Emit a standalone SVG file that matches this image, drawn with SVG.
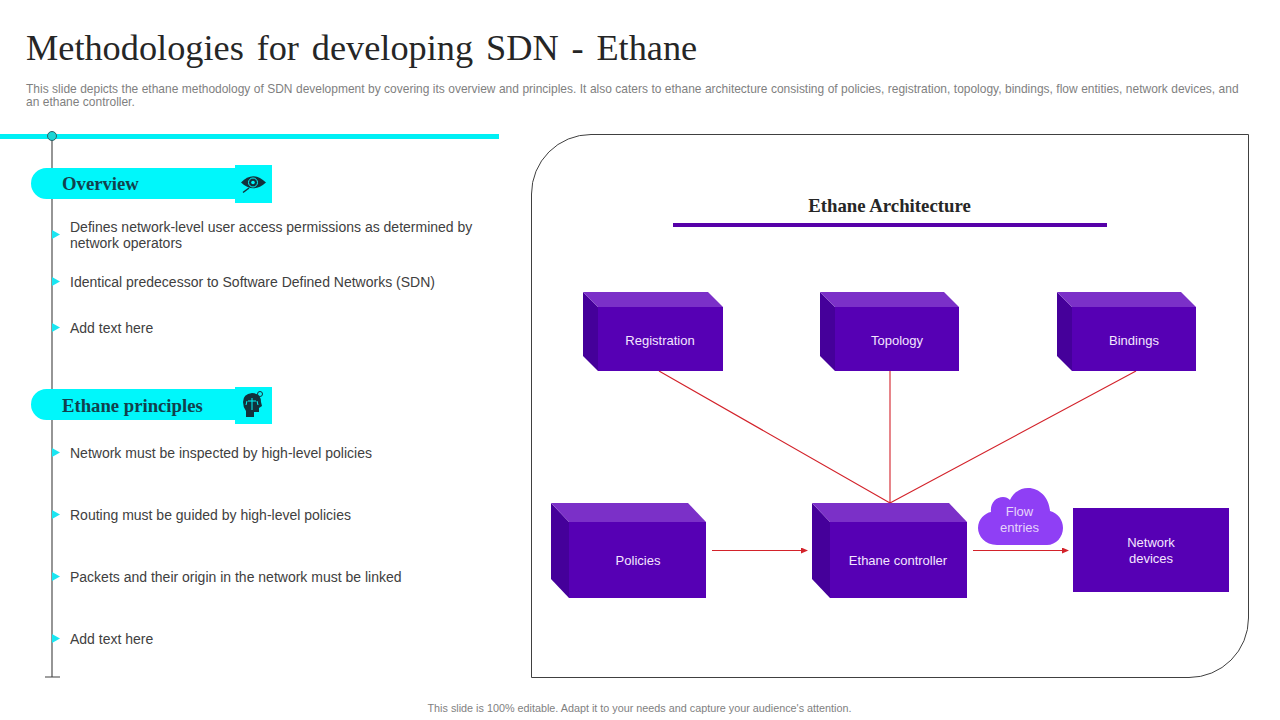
<svg xmlns="http://www.w3.org/2000/svg" width="1280" height="720" viewBox="0 0 1280 720">
<style>
.title{font:36.3px "Liberation Serif",serif;fill:#262626;word-spacing:3.800px}
.sub{font:11.980px "Liberation Sans",Arial,sans-serif;fill:#7f7f7f;word-spacing:.15px}
.body{font:14px "Liberation Sans",Arial,sans-serif;fill:#404040}
.head{font:bold 18.700px "Liberation Serif",serif;fill:#12414d}
.arch{font:bold 18.800px "Liberation Serif",serif;fill:#262626}
.lbl{font:13px "Liberation Sans",Arial,sans-serif;fill:#f4e6ff;text-anchor:middle}
.front{fill:#5600b4}.top{fill:#7b30c8}.side{fill:#45009a}
.pill{fill:#00f7fb}.tri{fill:#19e6f2}
.wire{stroke:#d3222a;stroke-width:1.1;fill:none}
.spine{stroke:#404040;stroke-width:1.1;fill:none}
</style>
<defs>
<marker id="arrow" markerWidth="7" markerHeight="6" refX="6" refY="3" orient="auto" markerUnits="userSpaceOnUse"><path d="M0 0L7 3L0 6Z" fill="#d3222a"/></marker>
</defs>
<g id="header">
<text class="title" x="26" y="60">Methodologies for developing SDN - Ethane</text>
<text class="sub" x="26" y="93">This slide depicts the ethane methodology of SDN development by covering its overview and principles. It also caters to ethane architecture consisting of policies, registration, topology, bindings, flow entities, network devices, and</text>
<text class="sub" x="26" y="106">an ethane controller.</text>
</g>
<g id="timeline">
<rect x="0" y="134" width="499" height="5" fill="#00f0f5"/>
<path class="spine" d="M52 140V677M45 677H60"/>
<circle cx="52" cy="136" r="4.5" fill="#19d5d5" stroke="#2f5f66" stroke-width="1"/>
</g>
<g id="overview">
<path class="pill" d="M46.500 168H235V199H46.500A15.500 15.500 0 0 1 46.500 168Z"/>
<rect class="pill" x="235" y="165" width="37" height="38"/>
<text class="head" x="62" y="190">Overview</text>
<path d="M241 182.500Q253 170 266 182.500Q253 194 241 182.500Z" fill="#12323c"/>
<circle cx="253" cy="182.500" r="4.500" fill="none" stroke="#00f7fb" stroke-width="1"/>
<circle cx="253" cy="182.500" r="1.800" fill="#00f7fb"/>
<path d="M249 188L243 192.500" stroke="#12323c" stroke-width="1.500"/>
</g>
<g id="overview-items">
<path class="tri" d="M52 230L60 234.500L52 239Z"/>
<text class="body" x="70" y="232">Defines network-level user access permissions as determined by</text>
<text class="body" x="70" y="248">network operators</text>
<path class="tri" d="M52 277L60 281.500L52 286Z"/>
<text class="body" x="70" y="287">Identical predecessor to Software Defined Networks (SDN)</text>
<path class="tri" d="M52 323L60 327.500L52 332Z"/>
<text class="body" x="70" y="333">Add text here</text>
</g>
<g id="principles">
<path class="pill" d="M46.500 389H235V420H46.500A15.500 15.500 0 0 1 46.500 389Z"/>
<rect class="pill" x="235" y="387" width="37" height="37"/>
<text class="head" x="62" y="412">Ethane principles</text>
<path d="M243 402Q243 394 252 393Q261 393 261 402L262 406L259 408V412L254 412V417H246V411Q243 407 243 402Z" fill="#12323c"/>
<circle cx="260" cy="394" r="2.500" fill="none" stroke="#12323c" stroke-width="1"/>
<path d="M252 398V410M248 401H256M247 401L246 405M257 401L258 405" stroke="#00f7fb" stroke-width="1" fill="none"/>
</g>
<g id="principles-items">
<path class="tri" d="M52 448L60 452.500L52 457Z"/>
<text class="body" x="70" y="458">Network must be inspected by high-level policies</text>
<path class="tri" d="M52 510L60 514.500L52 519Z"/>
<text class="body" x="70" y="520">Routing must be guided by high-level policies</text>
<path class="tri" d="M52 572L60 576.500L52 581Z"/>
<text class="body" x="70" y="582">Packets and their origin in the network must be linked</text>
<path class="tri" d="M52 634L60 638.500L52 643Z"/>
<text class="body" x="70" y="644">Add text here</text>
</g>
<g id="panel">
<path d="M591 134.500H1248.500V618A59.500 59.500 0 0 1 1189 677.500H531.500V194A59.500 59.500 0 0 1 591 134.500Z" fill="#fff" stroke="#404040" stroke-width="1"/>
<text class="arch" x="889.500" y="212" text-anchor="middle">Ethane Architecture</text>
<rect x="673" y="223" width="434" height="4" fill="#5600a8"/>
</g>
<g id="connectors">
<path class="wire" d="M659 371L890 503M890 371V503M1136 371L890 503"/>
<path class="wire" d="M712 550.500H807" marker-end="url(#arrow)"/>
<path class="wire" d="M973 550.500H1068" marker-end="url(#arrow)"/>
</g>
<g id="registration">
<path class="side" d="M583 292L598 307V371L583 356Z"/>
<path class="top" d="M583 292H708L723 307H598Z"/>
<rect class="front" x="598" y="307" width="125" height="64"/>
<text class="lbl" x="660" y="345">Registration</text>
</g>
<g id="topology">
<path class="side" d="M820 292L835 307V371L820 356Z"/>
<path class="top" d="M820 292H944L959 307H835Z"/>
<rect class="front" x="835" y="307" width="124" height="64"/>
<text class="lbl" x="897" y="345">Topology</text>
</g>
<g id="bindings">
<path class="side" d="M1057 292L1072 307V371L1057 356Z"/>
<path class="top" d="M1057 292H1181L1196 307H1072Z"/>
<rect class="front" x="1072" y="307" width="124" height="64"/>
<text class="lbl" x="1134" y="345">Bindings</text>
</g>
<g id="policies">
<path class="side" d="M551 503L569 522V598L551 579Z"/>
<path class="top" d="M551 503H688L706 522H569Z"/>
<rect class="front" x="569" y="522" width="137" height="76"/>
<text class="lbl" x="638" y="565">Policies</text>
</g>
<g id="controller">
<path class="side" d="M812 503L830 522V598L812 579Z"/>
<path class="top" d="M812 503H949L967 522H830Z"/>
<rect class="front" x="830" y="522" width="137" height="76"/>
<text class="lbl" x="898" y="565">Ethane controller</text>
</g>
<g id="flow-entries">
<path d="M997 545C985 545 978 536 978 528C978 519 985 513 991 512C990 503 996 497 1003 497C1006 497 1008 498 1010 500C1013 493 1020 488 1028 488C1040 488 1049 498 1050 511C1058 513 1063 520 1063 528C1063 537 1056 545 1047 545Z" fill="#8f3ff5"/>
<text class="lbl" x="1019.500" y="516" style="fill:#e6d4fa">Flow</text>
<text class="lbl" x="1019.500" y="532" style="fill:#e6d4fa">entries</text>
</g>
<g id="network-devices">
<rect class="front" x="1073" y="508" width="156" height="84"/>
<text class="lbl" x="1151" y="547">Network</text>
<text class="lbl" x="1151" y="563">devices</text>
</g>
<g id="footer">
<text x="639.500" y="712" text-anchor="middle" style="font:10.800px 'Liberation Sans',Arial,sans-serif;fill:#7f7f7f">This slide is 100% editable. Adapt it to your needs and capture your audience's attention.</text>
</g>
</svg>
